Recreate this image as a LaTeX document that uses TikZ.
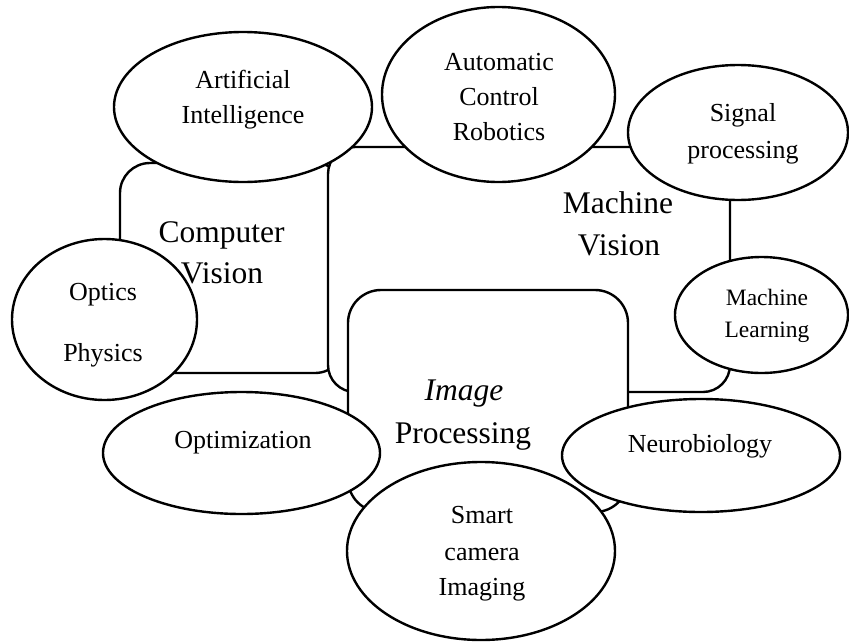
\documentclass[tikz,border=0pt]{standalone}
\usepackage{fontspec}
\setmainfont{Liberation Serif}
\usetikzlibrary{shapes.geometric}
\tikzset{
  box/.style={draw, fill=white, rectangle, line width=2.4pt, inner sep=0pt},
  ell/.style={draw, fill=white, ellipse, line width=2.4pt, inner sep=0pt},
  big/.style={anchor=base, inner sep=0pt, font=\fontsize{31.5}{36}\selectfont},
  small/.style={anchor=base, inner sep=0pt, font=\fontsize{26}{30}\selectfont},
  tiny/.style={anchor=base, inner sep=0pt, font=\fontsize{23.5}{27}\selectfont}
}
\begin{document}
\begin{tikzpicture}[x=1pt, y=-1pt]
\useasboundingbox (0,0) rectangle (849,643);
% boxes
\node[box, rounded corners=30pt, minimum width=225pt, minimum height=210pt] (cv) at (232.5,268) {};
\node[box, rounded corners=27pt, minimum width=402pt, minimum height=245pt] (mv) at (529,269.5) {};
\node[box, rounded corners=33pt, minimum width=280pt, minimum height=222pt] (ip) at (488,401) {};
% box labels
\node[big] (cv1) at (221.5,242) {Computer};
\node[big] (cv2) at (222,283) {Vision};
\node[big] (mv1) at (618,213) {Machine};
\node[big] (mv2) at (619,255) {Vision};
\node[big] (ip1) at (464,400) {\itshape Image};
\node[big] (ip2) at (463,443) {Processing};
% ellipses
\node[ell, minimum width=258pt, minimum height=150pt] (ai) at (243,107) {};
\node[ell, minimum width=233pt, minimum height=175pt] (acr) at (498.5,94.5) {};
\node[ell, minimum width=220pt, minimum height=135pt] (sig) at (738,132.5) {};
\node[ell, minimum width=185pt, minimum height=161pt] (op) at (104.5,319.5) {};
\node[ell, minimum width=173pt, minimum height=116pt] (ml) at (761.5,315) {};
\node[ell, minimum width=277pt, minimum height=122pt] (opt) at (241.5,453) {};
\node[ell, minimum width=278pt, minimum height=113pt] (neu) at (701,455.5) {};
\node[ell, minimum width=268pt, minimum height=178pt] (sc) at (481,551) {};
% ellipse texts
\node[small] (ai1) at (243,88) {Artificial};
\node[small] (ai2) at (243,123) {Intelligence};
\node[small] (acr1) at (499,70) {Automatic};
\node[small] (acr2) at (499,105) {Control};
\node[small] (acr3) at (499,140) {Robotics};
\node[small] (sig1) at (743,121) {Signal};
\node[small] (sig2) at (743,158) {processing};
\node[small] (op1) at (103,300) {Optics};
\node[small] (op2) at (103,361) {Physics};
\node[tiny] (ml1) at (767,305) {Machine};
\node[tiny] (ml2) at (767,337) {Learning};
\node[small] (opt1) at (243,448) {Optimization};
\node[small] (neu1) at (700,452) {Neurobiology};
\node[small] (sc1) at (482,523) {Smart};
\node[small] (sc2) at (482,560) {camera};
\node[small] (sc3) at (482,595) {Imaging};
\end{tikzpicture}
\end{document}
